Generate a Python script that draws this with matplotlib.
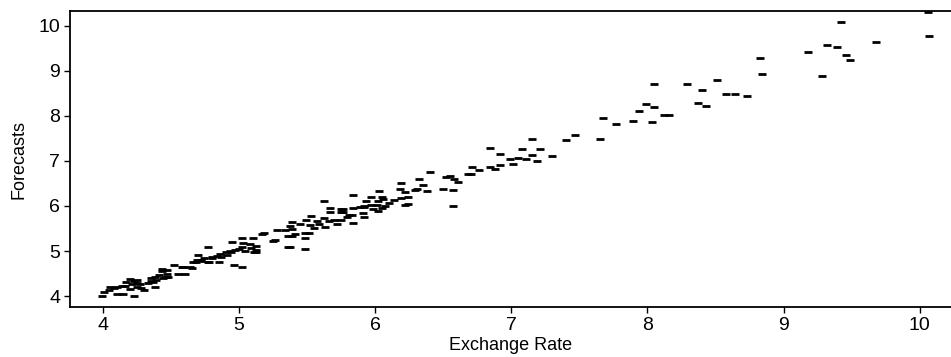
import matplotlib.pyplot as plt
import numpy as np

# exchange rate vs. forecast pairs
exchange_rate = [
    3.99, 4.01, 4.04, 4.05, 4.08, 4.10, 4.10, 4.14, 4.15, 4.16, 4.17, 4.20, 4.20,
    4.21, 4.23, 4.23, 4.25, 4.25, 4.25, 4.27, 4.28, 4.30, 4.33, 4.35, 4.35, 4.37,
    4.38, 4.38, 4.39, 4.41, 4.43, 4.43, 4.44, 4.46, 4.47, 4.47, 4.48, 4.52, 4.55,
    4.59, 4.58, 4.60, 4.64, 4.65, 4.66, 4.68, 4.69, 4.70, 4.72, 4.72, 4.74, 4.77,
    4.77, 4.78, 4.80, 4.80, 4.84, 4.85, 4.86, 4.87, 4.90, 4.91, 4.93, 4.94, 4.95,
    4.96, 4.97, 5.00, 5.02, 5.02, 5.02, 5.03, 5.04, 5.08, 5.09, 5.10, 5.11, 5.12,
    5.12, 5.12, 5.17, 5.18, 5.25, 5.26, 5.28, 5.34, 5.36, 5.36, 5.37, 5.37, 5.39,
    5.39, 5.39, 5.41, 5.45, 5.48, 5.48, 5.48, 5.49, 5.51, 5.52, 5.53, 5.55, 5.57,
    5.59, 5.62, 5.62, 5.63, 5.66, 5.67, 5.67, 5.70, 5.72, 5.75, 5.75, 5.75, 5.76,
    5.76, 5.79, 5.81, 5.83, 5.84, 5.84, 5.84, 5.89, 5.91, 5.92, 5.92, 5.92, 5.93,
    5.97, 5.97, 5.98, 6.01, 6.02, 6.02, 6.03, 6.05, 6.05, 6.06, 6.07, 6.10, 6.14,
    6.18, 6.19, 6.19, 6.22, 6.22, 6.24, 6.24, 6.29, 6.31, 6.32, 6.35, 6.38, 6.40,
    6.50, 6.52, 6.55, 6.57, 6.57, 6.58, 6.61, 6.68, 6.70, 6.71, 6.76, 6.84, 6.84,
    6.88, 6.92, 6.92, 6.99, 7.01, 7.05, 7.08, 7.11, 7.15, 7.15, 7.19, 7.21, 7.30,
    7.40, 7.47, 7.65, 7.67, 7.77, 7.89, 7.94, 7.99, 8.03, 8.05, 8.05, 8.12, 8.16,
    8.29, 8.37, 8.40, 8.43, 8.51, 8.58, 8.64, 8.73, 8.83, 8.84, 9.18, 9.28, 9.32,
    9.39, 9.42, 9.46, 9.49, 9.68, 10.06, 10.07,
]
forecasts = [
    4.01, 4.08, 4.13, 4.21, 4.17, 4.21, 4.04, 4.23, 4.04, 4.23, 4.32, 4.38, 4.16,
    4.26, 4.33, 4.01, 4.36, 4.28, 4.21, 4.26, 4.17, 4.13, 4.28, 4.41, 4.33, 4.32,
    4.43, 4.21, 4.36, 4.47, 4.56, 4.59, 4.39, 4.43, 4.58, 4.50, 4.43, 4.69, 4.48,
    4.65, 4.65, 4.50, 4.65, 4.63, 4.75, 4.75, 4.80, 4.91, 4.78, 4.80, 4.84, 4.76,
    5.10, 4.76, 4.87, 4.84, 4.90, 4.75, 4.93, 4.87, 4.98, 4.91, 5.00, 4.97, 5.21,
    4.70, 5.02, 5.04, 5.28, 5.10, 4.65, 5.17, 5.00, 5.15, 5.06, 5.28, 4.98, 5.02,
    4.98, 5.12, 5.38, 5.39, 5.23, 5.24, 5.47, 5.47, 5.33, 5.08, 5.56, 5.08, 5.65,
    5.50, 5.34, 5.37, 5.59, 5.41, 5.28, 5.04, 5.70, 5.41, 5.58, 5.78, 5.52, 5.67,
    5.59, 6.10, 5.73, 5.54, 5.67, 5.95, 5.86, 5.70, 5.61, 5.93, 5.87, 5.69, 5.93,
    5.87, 5.76, 5.80, 5.80, 5.95, 5.62, 6.24, 5.98, 5.85, 6.01, 5.76, 5.97, 6.10,
    6.19, 6.02, 5.93, 6.02, 6.11, 5.89, 6.34, 6.21, 5.96, 6.15, 5.99, 6.06, 6.13,
    6.38, 6.50, 6.17, 6.30, 6.03, 6.21, 6.04, 6.35, 6.38, 6.60, 6.47, 6.33, 6.76,
    6.38, 6.65, 6.66, 6.35, 6.00, 6.61, 6.53, 6.70, 6.71, 6.86, 6.80, 7.28, 6.86,
    6.83, 7.16, 6.90, 7.04, 6.93, 7.07, 7.26, 7.05, 7.48, 7.13, 7.00, 7.26, 7.10,
    7.46, 7.57, 7.48, 7.96, 7.82, 7.88, 8.10, 8.26, 7.86, 8.72, 8.20, 8.02, 8.02,
    8.71, 8.28, 8.57, 8.23, 8.79, 8.48, 8.48, 8.44, 9.29, 8.93, 9.42, 8.89, 9.58,
    9.54, 10.08, 9.35, 9.25, 9.64, 10.31, 9.78,
]

x_ticks = [4, 5, 6, 7, 8, 9, 10]
y_ticks = [4, 5, 6, 7, 8, 9, 10]

plt.rcParams['font.family'] = 'Liberation Sans'

fig = plt.figure(figsize=(9.51, 3.57), dpi=100)
ax = fig.add_axes([0.0736, 0.140, 0.9264, 0.829])

ax.plot(exchange_rate, forecasts, linestyle='none', marker='_',
        markersize=5.2, markeredgewidth=2.0, color='black')

ax.set_xlim(3.757, 10.23)
ax.set_ylim(3.756, 10.33)
ax.set_xticks(x_ticks)
ax.set_yticks(y_ticks)
ax.tick_params(labelsize=14, length=4, width=1, direction='out', pad=3)

# --- spines: open on the right
ax.spines['right'].set_visible(False)
for s in ['left', 'bottom', 'top']:
    ax.spines[s].set_linewidth(1.3)

ax.set_xlabel('Exchange Rate', fontsize=13, labelpad=2)
ax.set_ylabel('Forecasts', fontsize=13, labelpad=8)

plt.savefig('out.png', dpi=100)
